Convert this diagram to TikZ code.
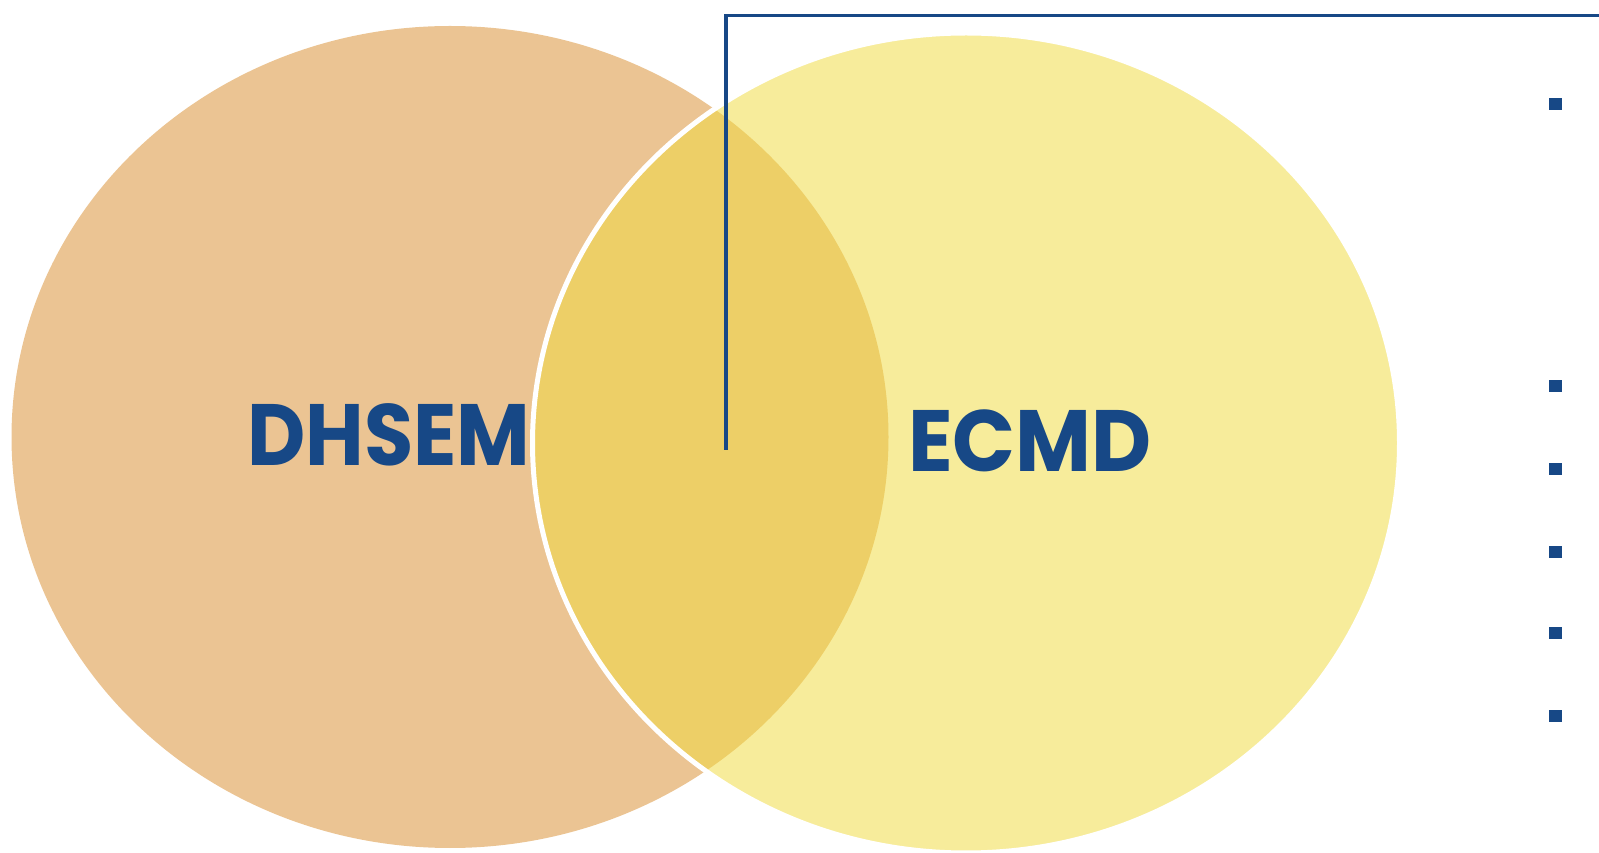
\documentclass[tikz,border=0pt]{standalone}
\usepackage{fontspec}
\setmainfont{Poppins}
\definecolor{agencyblue}{RGB}{23,72,134}
\definecolor{leftfill}{RGB}{235,196,147}
\definecolor{rightfill}{RGB}{240,218,63}
\tikzset{
  vennlabel/.style={text=agencyblue,font=\fontsize{87pt}{87pt}\selectfont\bfseries,inner sep=0,xscale=0.95},
  bulletbox/.style={fill=agencyblue,minimum width=13pt,minimum height=12pt,inner sep=0}
}

\begin{document}
\begin{tikzpicture}[x=1pt,y=1pt]
    \pgfmathsetmacro{\pagewidth}{1599}
    \pgfmathsetmacro{\pageheight}{852}
    \pgfmathsetmacro{\bulletx}{1555}
    \useasboundingbox (0,0) rectangle (\pagewidth,\pageheight);
    % the two circles, the right one see-through with a white rim
    \fill[leftfill] (450,415) ellipse [x radius=438.5, y radius=411];
    \draw[draw=white,line width=5pt,fill=rightfill,fill opacity=0.52] (966,409) ellipse [x radius=433.5, y radius=410];
    \node[vennlabel,xscale=0.97](dhsem) at (389,417.5){DHSEM};
    \node[vennlabel](ecmd) at (1030,411){ECMD};
    % bracket from the overlap up and out to the right
    \coordinate (bracketfoot) at (726,402);
    \coordinate (bracketend) at (\pagewidth,836.7);
    \draw[agencyblue,line width=3.5pt] (bracketfoot) |- (bracketend);
    \foreach \y [count=\i] in {748,465.5,383,300,219,136}
        \node[bulletbox](bullet\i) at (\bulletx,\y){};
\end{tikzpicture}
\end{document}
